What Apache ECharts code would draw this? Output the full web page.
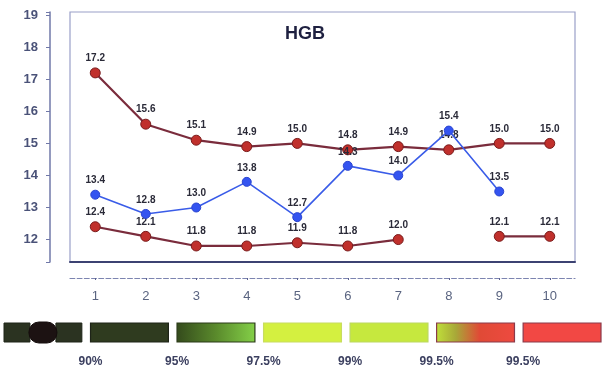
<!DOCTYPE html>
<html><head><meta charset="utf-8">
<script src="https://cdn.jsdelivr.net/npm/echarts@6/dist/echarts.min.js"></script>
<style>html,body{margin:0;padding:0;background:#fff}#c{width:604px;height:377px}</style>
</head><body><div id="c"></div>
<script>
var categories = ['1','2','3','4','5','6','7','8','9','10'];
var redTop = [17.2, 15.6, 15.1, 14.9, 15.0, 14.8, 14.9, 14.8, 15.0, 15.0];
var blueMid = [13.4, 12.8, 13.0, 13.8, 12.7, 14.3, 14.0, 15.4, 13.5, null];
var redBottom = [12.4, 12.1, 11.8, 11.8, 11.9, 11.8, 12.0, null, 12.1, 12.1];
var scaleTicks = ['90%', '95%', '97.5%', '99%', '99.5%', '99.5%'];
var scaleBars = [0, 1, 2, 3, 4, 5, 6];

var FONT = 'Liberation Sans, Arial, sans-serif';
function grad(stops) {
  return new echarts.graphic.LinearGradient(0, 0, 1, 0, stops);
}
var fills = [
  '#2b3321',
  '#2f3b1f',
  grad([{offset:0,color:'#344a1c'},{offset:0.5,color:'#5a8a2c'},{offset:1,color:'#84d048'}]),
  '#d4f040',
  '#c6e83e',
  grad([{offset:0,color:'#c0e03a'},{offset:0.25,color:'#a8a838'},{offset:0.55,color:'#e04a36'},{offset:1,color:'#ee4a40'}]),
  '#f24844'
];
var strokes = ['#1e2418','#1e2418','#2a3a18','#c8dc60','#bcd860','#8a3a4a','#8a3a4a'];

var chart = echarts.init(document.getElementById('c'), null, {renderer:'canvas'});
var labelStyle = {show:true, position:'top', distance:4, fontSize:10, fontWeight:'bold', color:'#2a2a38', fontFamily:FONT,
  formatter:function(p){ return Number(p.value).toFixed(1); }};
var redItem = {color:'#c0302c', borderColor:'#7a1c1c', borderWidth:1};
chart.setOption({
  animation:false,
  title:{text:'HGB', left:300, top:20, textAlign:'center', textStyle:{fontSize:18, fontWeight:'bold', color:'#1e2040', fontFamily:FONT}},
  grid:[
    {left:70, top:12, width:505, height:250, show:true, borderColor:'#9aa0c8', borderWidth:1.2, backgroundColor:'#fff'},
    {left:4, right:3, top:323, height:19}
  ],
  xAxis:[
    {type:'category', gridIndex:0, data:categories, axisLine:{lineStyle:{color:'#3c4272', width:2}}, axisTick:{show:false}, axisLabel:{show:false}},
    {type:'category', gridIndex:0, data:categories, position:'bottom', offset:16,
      axisLine:{lineStyle:{color:'#7c84b0', width:1.2, type:'dashed'}},
      axisTick:{show:true, alignWithLabel:true, length:2, lineStyle:{color:'#5a6090'}},
      axisLabel:{fontSize:13, color:'#5a6480', margin:12, fontFamily:FONT}},
    {type:'value', gridIndex:1, min:0, max:6.9, interval:1, splitLine:{show:false}, axisLine:{show:false}, axisTick:{show:false},
      axisLabel:{margin:14, fontSize:12, fontWeight:'bold', color:'#3c4060', fontFamily:FONT,
        formatter:function(v){ var i=Math.round(v); return (Math.abs(v-i)<1e-6 && i>=1 && i<=scaleTicks.length) ? scaleTicks[i-1] : ''; }}}
  ],
  yAxis:[
    {type:'value', gridIndex:0, min:11.3, max:19.1, splitNumber:8, minInterval:1, maxInterval:1, offset:20,
      axisLine:{show:true, lineStyle:{color:'#7078a8', width:1.5}},
      axisTick:{show:true, length:4, lineStyle:{color:'#7078a8'}},
      splitLine:{show:false},
      axisLabel:{fontSize:13, color:'#4a5278', margin:12, fontWeight:'bold', fontFamily:FONT,
        formatter:function(v){ return Math.abs(v-Math.round(v))<1e-6 ? String(Math.round(v)) : ''; }}},
    {type:'value', gridIndex:1, min:0, max:1, show:false}
  ],
  series:[
    {type:'line', name:'top', xAxisIndex:0, yAxisIndex:0, data:redTop, symbol:'circle', symbolSize:10,
      lineStyle:{color:'#7a2c3c', width:2.2}, itemStyle:redItem, label:labelStyle, z:3},
    {type:'line', name:'mid', xAxisIndex:0, yAxisIndex:0, data:blueMid, symbol:'circle', symbolSize:9,
      lineStyle:{color:'#3a5ce8', width:1.6}, itemStyle:{color:'#3454f0', borderColor:'#2a44d0'}, label:labelStyle, z:4},
    {type:'line', name:'bottom', xAxisIndex:0, yAxisIndex:0, data:redBottom, symbol:'circle', symbolSize:10, connectNulls:false,
      lineStyle:{color:'#7a2c3c', width:2.2}, itemStyle:redItem, label:labelStyle, z:3},
    {type:'custom', xAxisIndex:2, yAxisIndex:1, data:scaleBars.map(function(i){return [i];}),
      renderItem:function(params, api){
        var i = api.value(0);
        var p0 = api.coord([i, 1]), p1 = api.coord([i+0.9, 0]);
        var x = p0[0], y = p0[1], w = p1[0]-p0[0], h = p1[1]-p0[1];
        if (i === 0) {
          var a = api.coord([0.3, 0])[0]-x, b = api.coord([0.6, 0])[0]-x;
          return {type:'group', children:[
            {type:'rect', shape:{x:x, y:y, width:a, height:h}, style:{fill:'#2b3321', stroke:'#1e2418', lineWidth:1}},
            {type:'rect', shape:{x:x+b, y:y, width:w-b, height:h}, style:{fill:'#2b3321', stroke:'#1e2418', lineWidth:1}},
            {type:'rect', shape:{x:x+a-1, y:y-1, width:b-a+2, height:h+2, r:10}, style:{fill:'#1c1212', stroke:'#140c0c', lineWidth:1}}
          ]};
        }
        return {type:'rect', shape:{x:x, y:y, width:w, height:h}, style:{fill:fills[i], stroke:strokes[i], lineWidth:1.2}};
      }}
  ]
});
</script></body></html>
